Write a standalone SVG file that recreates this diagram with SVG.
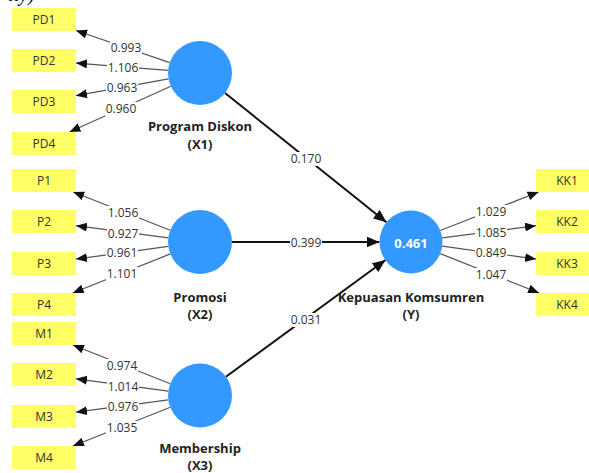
<svg xmlns="http://www.w3.org/2000/svg" width="589" height="473" viewBox="0 0 589 473">
<style>
text{font-family:"Open Sans","Noto Sans","DejaVu Sans",sans-serif;}
.box{fill:#FFFF66;}
.bt{font-size:12px;fill:#333;text-anchor:middle;}
.lv{fill:#3399FF;}
.nl{font-size:13px;font-weight:bold;fill:#222;text-anchor:middle;}
.r2{font-size:13px;font-weight:bold;fill:#fff;text-anchor:middle;}
.ld{stroke:#555;stroke-width:1.2;fill:none;marker-end:url(#a1);}
.pl{stroke:#111;stroke-width:2;fill:none;marker-end:url(#a2);}
.lb{fill:#fff;}
.lt{font-size:12px;fill:#333;text-anchor:middle;}
.top{font-family:"Liberation Serif",serif;font-style:italic;font-size:20px;fill:#111;}
</style>
<defs>
<marker id="a1" markerUnits="userSpaceOnUse" markerWidth="12" markerHeight="10" refX="11" refY="4.5" orient="auto"><path d="M0,0 L11,4.5 L0,9 Z" fill="#111"/></marker>
<marker id="a2" markerUnits="userSpaceOnUse" markerWidth="14" markerHeight="12" refX="13" refY="5.5" orient="auto"><path d="M0,0 L13,5.5 L0,11 Z" fill="#111"/></marker>
</defs>
<rect width="589" height="473" fill="#fff"/>
<text class="top" x="8" y="1">ity)</text>
<g id="connectors">
<line class="ld" x1="169.7" y1="62.6" x2="76" y2="30.5"/>
<line class="ld" x1="168.1" y1="70.4" x2="76" y2="63.1"/>
<line class="ld" x1="168.5" y1="78.8" x2="76" y2="95.7"/>
<line class="ld" x1="170.8" y1="86.2" x2="69.5" y2="132"/>
<line class="ld" x1="170.2" y1="230.3" x2="73.2" y2="192"/>
<line class="ld" x1="168.3" y1="237.8" x2="76" y2="225.7"/>
<line class="ld" x1="168.3" y1="246.4" x2="76" y2="259.1"/>
<line class="ld" x1="170.3" y1="253.9" x2="72.7" y2="293"/>
<line class="ld" x1="170.3" y1="383.7" x2="72.9" y2="345"/>
<line class="ld" x1="168.3" y1="391.2" x2="76" y2="378.8"/>
<line class="ld" x1="168.3" y1="399.8" x2="76" y2="412.2"/>
<line class="ld" x1="170.3" y1="407.3" x2="72.9" y2="446"/>
<line class="ld" x1="440.3" y1="230.5" x2="538.6" y2="192"/>
<line class="ld" x1="442.2" y1="237.9" x2="536" y2="225.7"/>
<line class="ld" x1="442.2" y1="246.1" x2="536" y2="259.1"/>
<line class="ld" x1="440.3" y1="253.6" x2="539.1" y2="293"/>
<line class="pl" x1="225" y1="93" x2="386.4" y2="222.3"/>
<line class="pl" x1="232" y1="242" x2="379.5" y2="242"/>
<line class="pl" x1="225.9" y1="376.7" x2="385.5" y2="260"/>
<g id="labels">
<rect class="lb" x="110" y="41" width="32" height="14"/><text class="lt" x="126" y="52.3">0.993</text>
<rect class="lb" x="107" y="61" width="32" height="14"/><text class="lt" x="123" y="72.3">1.106</text>
<rect class="lb" x="106" y="81" width="32" height="14"/><text class="lt" x="122" y="92.3">0.963</text>
<rect class="lb" x="105" y="102" width="32" height="14"/><text class="lt" x="121" y="113.3">0.960</text>
<rect class="lb" x="107" y="206" width="32" height="14"/><text class="lt" x="123" y="217.3">1.056</text>
<rect class="lb" x="107" y="227" width="32" height="14"/><text class="lt" x="123" y="238.3">0.927</text>
<rect class="lb" x="106" y="246" width="32" height="14"/><text class="lt" x="122" y="257.3">0.961</text>
<rect class="lb" x="106" y="267" width="32" height="14"/><text class="lt" x="122" y="278.3">1.101</text>
<rect class="lb" x="106" y="359" width="32" height="14"/><text class="lt" x="122" y="370.3">0.974</text>
<rect class="lb" x="107" y="380" width="32" height="14"/><text class="lt" x="123" y="391.3">1.014</text>
<rect class="lb" x="107" y="400" width="32" height="14"/><text class="lt" x="123" y="411.3">0.976</text>
<rect class="lb" x="106" y="421" width="32" height="14"/><text class="lt" x="122" y="432.3">1.035</text>
<rect class="lb" x="475" y="205" width="32" height="14"/><text class="lt" x="491" y="216.3">1.029</text>
<rect class="lb" x="475" y="226" width="32" height="14"/><text class="lt" x="491" y="237.3">1.085</text>
<rect class="lb" x="475" y="246" width="32" height="14"/><text class="lt" x="491" y="257.3">0.849</text>
<rect class="lb" x="475" y="268" width="32" height="14"/><text class="lt" x="491" y="279.3">1.047</text>
<rect class="lb" x="290" y="152" width="32" height="14"/><text class="lt" x="306" y="163.3">0.170</text>
<rect class="lb" x="290" y="236" width="32" height="14"/><text class="lt" x="306" y="247.3">0.399</text>
<rect class="lb" x="290" y="313" width="32" height="14"/><text class="lt" x="306" y="324.3">0.031</text>
</g>
</g>
<g id="PD1"><rect class="box" x="12" y="8" width="64" height="23"/><text class="bt" x="44" y="24">PD1</text></g>
<g id="PD2"><rect class="box" x="12" y="49" width="64" height="23"/><text class="bt" x="44" y="65">PD2</text></g>
<g id="PD3"><rect class="box" x="12" y="90" width="64" height="23"/><text class="bt" x="44" y="106">PD3</text></g>
<g id="PD4"><rect class="box" x="12" y="132" width="64" height="23"/><text class="bt" x="44" y="148">PD4</text></g>
<g id="P1"><rect class="box" x="12" y="169" width="64" height="23"/><text class="bt" x="44" y="185">P1</text></g>
<g id="P2"><rect class="box" x="12" y="210" width="64" height="23"/><text class="bt" x="44" y="226">P2</text></g>
<g id="P3"><rect class="box" x="12" y="252" width="64" height="23"/><text class="bt" x="44" y="268">P3</text></g>
<g id="P4"><rect class="box" x="12" y="293" width="64" height="23"/><text class="bt" x="44" y="309">P4</text></g>
<g id="M1"><rect class="box" x="12" y="322" width="64" height="23"/><text class="bt" x="44" y="338">M1</text></g>
<g id="M2"><rect class="box" x="12" y="363" width="64" height="23"/><text class="bt" x="44" y="379">M2</text></g>
<g id="M3"><rect class="box" x="12" y="405" width="64" height="23"/><text class="bt" x="44" y="421">M3</text></g>
<g id="M4"><rect class="box" x="12" y="446" width="64" height="23"/><text class="bt" x="44" y="462">M4</text></g>
<g id="KK1"><rect class="box" x="536" y="169" width="64" height="23"/><text class="bt" x="567" y="185">KK1</text></g>
<g id="KK2"><rect class="box" x="536" y="210" width="64" height="23"/><text class="bt" x="567" y="226">KK2</text></g>
<g id="KK3"><rect class="box" x="536" y="252" width="64" height="23"/><text class="bt" x="567" y="268">KK3</text></g>
<g id="KK4"><rect class="box" x="536" y="293" width="64" height="23"/><text class="bt" x="567" y="309">KK4</text></g>
<g id="X1"><circle class="lv" cx="200" cy="73" r="32"/><text class="nl" x="200" y="131">Program Diskon</text><text class="nl" x="200" y="148.5">(X1)</text></g>
<g id="X2"><circle class="lv" cx="200" cy="242" r="32"/><text class="nl" x="200" y="301.5">Promosi</text><text class="nl" x="200" y="318.5">(X2)</text></g>
<g id="X3"><circle class="lv" cx="200" cy="395.5" r="32"/><text class="nl" x="200" y="453">Membership</text><text class="nl" x="200" y="470">(X3)</text></g>
<g id="Y"><circle class="lv" cx="411" cy="242" r="31.5"/><text class="r2" x="411" y="247.5">0.461</text><text class="nl" x="411" y="301.5">Kepuasan Komsumren</text><text class="nl" x="411" y="318.5">(Y)</text></g>
</svg>
